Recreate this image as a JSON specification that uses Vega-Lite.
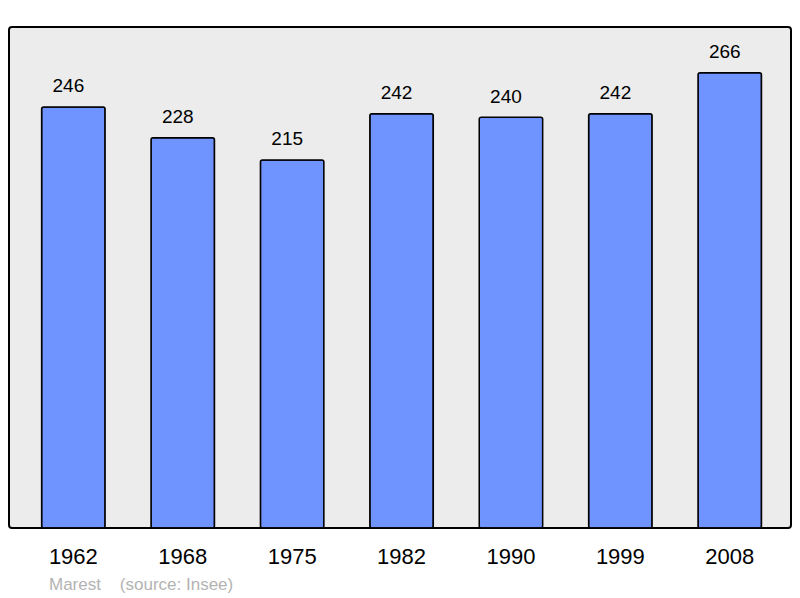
{
  "$schema": "https://vega.github.io/schema/vega-lite/v6.json",
  "width": 782,
  "height": 501,
  "autosize": {"type": "none"},
  "padding": {"left": 9, "top": 27, "right": 9, "bottom": 70},
  "background": "#ffffff",
  "config": {
    "view": {"fill": "#ececec", "stroke": "#000000", "strokeWidth": 2, "cornerRadius": 3},
    "font": "Liberation Sans"
  },
  "title": {
    "text": "Marest\u00a0\u00a0\u00a0 (source: Insee)",
    "orient": "bottom",
    "anchor": "start",
    "frame": "group",
    "dx": 40,
    "offset": 10,
    "font": "Liberation Sans",
    "fontSize": 17,
    "fontWeight": "normal",
    "color": "#b3b3b3"
  },
  "data": {
    "values": [
      {"year": "1962", "pop": 246},
      {"year": "1968", "pop": 228},
      {"year": "1975", "pop": 215},
      {"year": "1982", "pop": 242},
      {"year": "1990", "pop": 240},
      {"year": "1999", "pop": 242},
      {"year": "2008", "pop": 266}
    ]
  },
  "encoding": {
    "x": {
      "field": "year",
      "type": "ordinal",
      "sort": null,
      "scale": {"paddingInner": 0.42, "paddingOuter": 0.284, "align": 0.525},
      "axis": {
        "title": null,
        "domain": false,
        "ticks": false,
        "grid": false,
        "labelAngle": 0,
        "labelFontSize": 22,
        "labelColor": "#000000",
        "labelPadding": 18,
        "labelFont": "Liberation Sans"
      }
    },
    "y": {
      "field": "pop",
      "type": "quantitative",
      "scale": {"domain": [0, 292.7], "nice": false, "zero": true},
      "axis": null
    }
  },
  "layer": [
    {
      "mark": {"type": "bar", "fill": "#7094ff", "stroke": "#000000", "strokeWidth": 1.5, "cornerRadius": 2}
    },
    {
      "mark": {"type": "text", "baseline": "alphabetic", "dx": -5, "dy": -14.5, "fontSize": 19, "color": "#000000", "font": "Liberation Sans"},
      "encoding": {"text": {"field": "pop", "type": "quantitative"}}
    }
  ]
}
